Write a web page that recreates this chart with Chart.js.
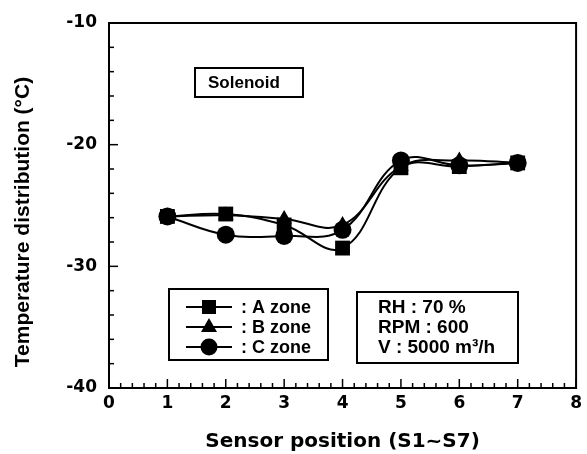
<!DOCTYPE html>
<html>
<head>
<meta charset="utf-8">
<script src="https://cdn.jsdelivr.net/npm/chart.js@4/dist/chart.umd.min.js"></script>
<style>
  html, body { margin: 0; padding: 0; background: #fff; }
  #wrap { width: 587px; height: 454px; }
</style>
</head>
<body>
<div id="wrap"><canvas id="chart" width="587" height="454"></canvas></div>
<script>
    'use strict';

    // sensor positions S1..S7
    var positions = [1, 2, 3, 4, 5, 6, 7];
    var zoneA = [-25.9, -25.7, -26.6, -28.5, -21.9, -21.8, -21.5];
    var zoneB = [-25.9, -25.8, -26.1, -26.6, -21.8, -21.3, -21.5];
    var zoneC = [-25.9, -27.4, -27.5, -27.0, -21.3, -21.7, -21.5];
    var seriesNames = ['A zone', 'B zone', 'C zone'];
    var infoLines = ['RH : 70 %', 'RPM : 600', 'V : 5000 m\u00B3/h'];
    var yTitle = 'Temperature distribution (\u00B0C)';

    var FONT = '"Liberation Sans", Arial, sans-serif';
    var WIDE = '"DejaVu Sans", sans-serif';

    function toPoints(ys) {
        return positions.map(function (x, i) { return { x: x, y: ys[i] }; });
    }

    function drawMarker(ctx, style, x, y) {
        ctx.beginPath();
        if (style === 'rect') {
            ctx.rect(x - 7, y - 7, 14, 14);
        } else if (style === 'triangle') {
            ctx.moveTo(x, y - 9);
            ctx.lineTo(x + 8, y + 5);
            ctx.lineTo(x - 8, y + 5);
            ctx.closePath();
        } else {
            ctx.arc(x, y, 8.5, 0, Math.PI * 2);
        }
        ctx.fill();
    }

    // frame, inward ticks, y title and the text boxes
    var decorations = {
        id: 'decorations',
        afterDraw: function (chart) {
            var ctx = chart.ctx;
            var area = chart.chartArea;
            var xs = chart.scales.x;
            var ys = chart.scales.y;
            ctx.save();
            ctx.strokeStyle = '#000';
            ctx.fillStyle = '#000';
            ctx.lineWidth = 2;
            ctx.strokeRect(area.left, area.top, area.right - area.left, area.bottom - area.top);

            ctx.lineWidth = 1.5;
            var i, p;
            for (i = 0; i <= 40; i++) {
                p = xs.getPixelForValue(i * 0.2);
                ctx.beginPath();
                ctx.moveTo(p, area.bottom);
                ctx.lineTo(p, area.bottom - (i % 5 === 0 ? 9 : 5));
                ctx.stroke();
            }
            for (i = 0; i <= 15; i++) {
                p = ys.getPixelForValue(-40 + i * 2);
                ctx.beginPath();
                ctx.moveTo(area.left, p);
                ctx.lineTo(area.left + (i % 5 === 0 ? 9 : 5), p);
                ctx.stroke();
            }

            // y axis title
            ctx.save();
            ctx.translate(23, 222);
            ctx.rotate(-Math.PI / 2);
            ctx.font = 'bold 21px ' + FONT;
            ctx.textAlign = 'center';
            ctx.textBaseline = 'middle';
            ctx.fillText(yTitle, 0, 0);
            ctx.restore();

            ctx.lineWidth = 2;
            ctx.textBaseline = 'middle';
            ctx.textAlign = 'left';

            // Solenoid label
            ctx.strokeRect(195, 68, 108, 29);
            ctx.font = 'bold 17px ' + FONT;
            ctx.fillText('Solenoid', 208, 83);

            // legend box
            ctx.strokeRect(169, 289, 159, 71);
            var styles = ['rect', 'triangle', 'circle'];
            var rows = [307, 327, 347];
            ctx.font = 'bold 18px ' + FONT;
            for (i = 0; i < 3; i++) {
                ctx.beginPath();
                ctx.moveTo(186, rows[i]);
                ctx.lineTo(232, rows[i]);
                ctx.stroke();
                drawMarker(ctx, styles[i], 209, rows[i]);
                ctx.fillText(': ' + seriesNames[i], 241, rows[i] + 1);
            }

            // conditions box
            ctx.strokeRect(357, 292, 161, 71);
            ctx.font = 'bold 19px ' + FONT;
            for (i = 0; i < 3; i++) {
                ctx.fillText(infoLines[i], 378, rows[i] + 1);
            }
            ctx.restore();
        }
    };

    function makeSet(label, values, style, radius) {
        return {
            label: label,
            data: toPoints(values),
            borderColor: '#000',
            backgroundColor: '#000',
            borderWidth: 2,
            pointStyle: style,
            pointRadius: radius,
            pointBorderWidth: 0,
            tension: 0.4,
            fill: false
        };
    }

    var config = {
        type: 'line',
        data: {
            datasets: [
                makeSet(seriesNames[0], zoneA, 'rect', 10.5),
                makeSet(seriesNames[1], zoneB, 'triangle', 9),
                makeSet(seriesNames[2], zoneC, 'circle', 9)
            ]
        },
        options: {
            responsive: false,
            animation: false,
            layout: { padding: { top: 23, right: 7, left: 0, bottom: 0 } },
            plugins: { legend: { display: false }, tooltip: { enabled: false } },
            scales: {
                x: {
                    type: 'linear',
                    min: 0,
                    max: 8,
                    grid: { display: false, drawTicks: false },
                    border: { display: false },
                    ticks: {
                        stepSize: 1,
                        color: '#000',
                        padding: 5,
                        font: { family: WIDE, size: 17, weight: 'bold' }
                    },
                    title: {
                        display: true,
                        text: 'Sensor position (S1~S7)',
                        color: '#000',
                        padding: { top: 8, bottom: 0 },
                        font: { family: WIDE, size: 20, weight: 'bold' }
                    },
                    afterFit: function (scale) { scale.height = 66; }
                },
                y: {
                    min: -40,
                    max: -10,
                    grid: { display: false, drawTicks: false },
                    border: { display: false },
                    ticks: {
                        stepSize: 10,
                        color: '#000',
                        padding: 12,
                        font: { family: WIDE, size: 17, weight: 'bold' }
                    },
                    afterFit: function (scale) { scale.width = 109; }
                }
            }
        },
        plugins: [decorations]
    };

    new Chart(document.getElementById('chart').getContext('2d'), config);
</script>
</body>
</html>
